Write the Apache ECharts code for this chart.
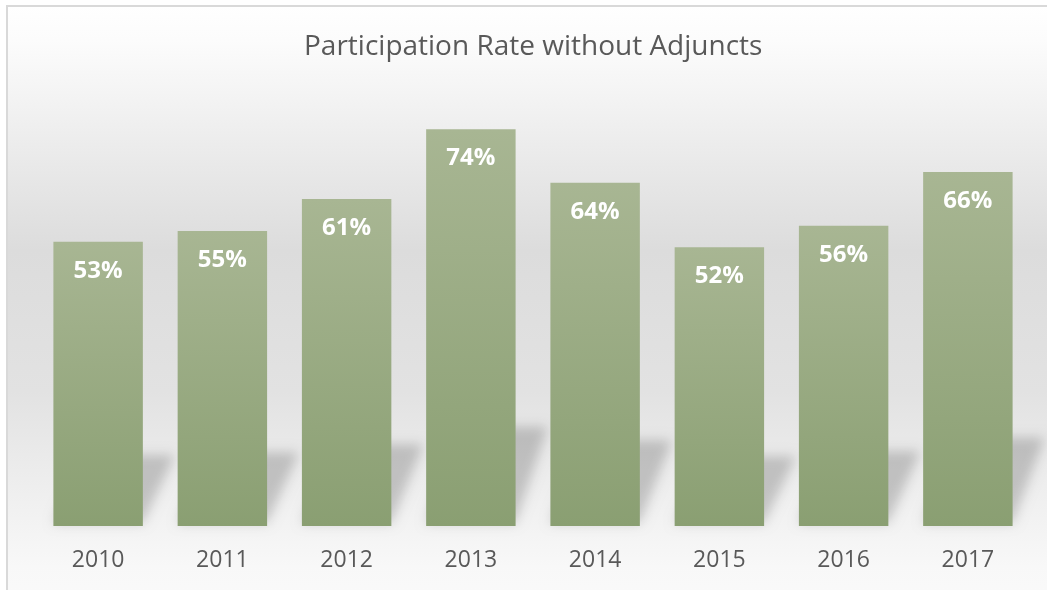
<!DOCTYPE html>
<html>
<head>
<meta charset="utf-8">
<script src="https://cdn.jsdelivr.net/npm/echarts@6/dist/echarts.min.js"></script>
<style>
  html, body { margin: 0; padding: 0; background: #fff; }
  #main { width: 1047px; height: 590px; }
</style>
</head>
<body>
<div id="main"></div>
<script>
var years = ['2010', '2011', '2012', '2013', '2014', '2015', '2016', '2017'];
var rates = [53, 55, 61, 74, 64, 52, 56, 66];

var chart = echarts.init(document.getElementById('main'), null, { renderer: 'canvas' });

// perspective shadow behind each bar (Excel style)
// the shape itself is drawn off screen, only its blurred shadow lands in place
var OFF = 3000;
function renderShadow(params, api) {
    var idx = api.value(0);
    var v = api.value(1);
    var top = api.coord([idx, v]);
    var base = api.coord([idx, 0]);
    var w = api.size([1, 0])[0] * 0.72;
    var xL = base[0] - w / 2 - OFF, xR = base[0] + w / 2 - OFF;
    var h = (base[1] - top[1]) * 0.25;
    var skew = 32;
    return {
        type: 'polygon',
        shape: {
            points: [[xL, base[1] - 3], [xR, base[1] - 3], [xR + skew, base[1] - h], [xL + skew, base[1] - h]]
        },
        style: {
            fill: '#000',
            shadowBlur: 12,
            shadowOffsetX: OFF,
            shadowColor: 'rgba(0,0,0,0.19)'
        }
    };
}

var option = {
    backgroundColor: '#ffffff',
    textStyle: { fontFamily: 'Open Sans' },
    graphic: [{
        type: 'rect',
        z: -10,
        silent: true,
        shape: { x: 7, y: 6, width: 1100, height: 700 },
        style: {
            stroke: '#d9d9d9',
            lineWidth: 2,
            fill: new echarts.graphic.LinearGradient(0, 0, 0, 1, [
                { offset: 0, color: '#ffffff' },
                { offset: 0.05, color: '#fcfcfc' },
                { offset: 0.35, color: '#dcdcdc' },
                { offset: 0.55, color: '#e2e2e2' },
                { offset: 0.8, color: '#f8f8f8' },
                { offset: 1, color: '#ffffff' }
            ])
        }
    }],
    title: {
        text: 'Participation Rate without Adjuncts',
        left: 304,
        top: 33,
        padding: 0,
        textStyle: {
            fontFamily: 'Open Sans',
            fontSize: 28,
            fontWeight: 'normal',
            color: '#595959'
        }
    },
    grid: { left: 36, right: 17, top: 97, bottom: 64 },
    xAxis: {
        type: 'category',
        data: years,
        axisLine: { show: false },
        axisTick: { show: false },
        axisLabel: {
            margin: 23,
            fontSize: 23,
            color: '#595959',
            fontFamily: 'Open Sans'
        }
    },
    yAxis: {
        type: 'value',
        min: 0,
        max: 80,
        show: false,
        splitLine: { show: false }
    },
    series: [
        {
            type: 'custom',
            renderItem: renderShadow,
            data: rates.map(function (v, i) { return [i, v]; }),
            z: 1,
            silent: true
        },
        {
            type: 'bar',
            data: rates,
            barCategoryGap: '28%',
            z: 2,
            itemStyle: {
                color: new echarts.graphic.LinearGradient(0, 0, 0, 1, [
                    { offset: 0, color: '#a8b693' },
                    { offset: 1, color: '#8a9f72' }
                ])
            },
            label: {
                show: true,
                position: 'insideTop',
                distance: 17,
                formatter: '{c}%',
                color: '#ffffff',
                fontSize: 24,
                fontWeight: 'bold',
                fontFamily: 'Open Sans'
            }
        }
    ]
};

chart.setOption(option);
</script>
</body>
</html>
